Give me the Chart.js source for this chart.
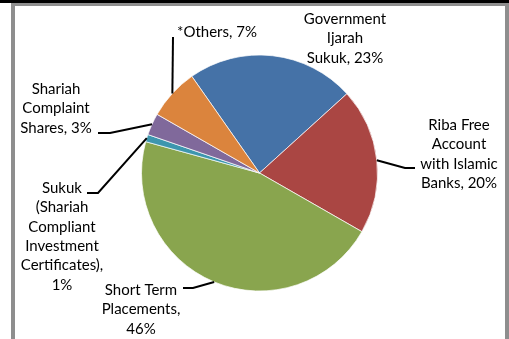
<!DOCTYPE html>
<html>
<head>
<meta charset="utf-8">
<script src="https://cdn.jsdelivr.net/npm/chart.js@4"></script>
<style>
  html, body { margin: 0; padding: 0; background: #fff; }
  body { width: 509px; height: 339px; position: relative; overflow: hidden; }
  #topband { position: absolute; left: 0; top: 0; width: 509px; height: 3px; background: #000; }
  #frame {
    position: absolute; left: 11px; top: 3px; width: 490px; height: 340px;
    border-left: 4px solid #8e8e8e; border-top: 3px solid #8e8e8e; border-right: 4px solid #8e8e8e;
  }
  #wrap { position: absolute; left: 0; top: 0; width: 509px; height: 339px; }
</style>
</head>
<body>
<div id="topband"></div>
<div id="frame"></div>
<div id="wrap"><canvas id="pie" width="509" height="339"></canvas></div>
<script>
// portfolio split, clockwise from the top-right slice
const categories = [
  ["Government", "Ijarah", "Sukuk"],
  ["Riba Free", "Account", "with Islamic", "Banks"],
  ["Short Term", "Placements"],
  ["Sukuk", "(Shariah", "Compliant", "Investment", "Certificates)"],
  ["Shariah", "Complaint", "Shares"],
  ["*Others"]
];
const shares = [23, 20, 46, 1, 3, 7];
const colors = ["#4572A7", "#AA4643", "#89A54E", "#3D96AE", "#80699B", "#DB843D"];

// where each label sits (text centre x, first line y) and the bend of its leader line
const labelLayout = [
  { x: 345, y: 19, leader: [] },
  { x: 459, y: 125, leader: [[405, 168], [415, 168]] },
  { x: 141, y: 290, leader: [[193, 288], [183, 288]] },
  { x: 62, y: 188, leader: [[98, 193], [87, 193]] },
  { x: 56, y: 89, leader: [[110, 133], [98, 133]] },
  { x: 217, y: 32, leader: [[173, 37]] }
];
const lineHeight = 19.4;

// builds "Name," / "46%" style lines like the spreadsheet labels
function labelLines(i) {
  const lines = categories[i].slice();
  const pct = shares[i] + "%";
  const last = lines[lines.length - 1] + ",";
  if (lines.length >= 5 || categories[i][0] === "Short Term") {
    lines[lines.length - 1] = last;
    lines.push(pct);
  } else {
    lines[lines.length - 1] = last + " " + pct;
  }
  return lines;
}

const labelPlugin = {
  id: "sliceLabels",
  afterDatasetsDraw(chart) {
    const ctx = chart.ctx;
    const arcs = chart.getDatasetMeta(0).data;
    ctx.save();
    arcs.forEach((arc, i) => {
      const p = arc.getProps(["x", "y", "startAngle", "endAngle", "outerRadius"], true);
      const mid = (p.startAngle + p.endAngle) / 2;
      const lay = labelLayout[i];
      if (lay.leader.length) {
        ctx.beginPath();
        ctx.moveTo(p.x + Math.cos(mid) * p.outerRadius, p.y + Math.sin(mid) * p.outerRadius);
        lay.leader.forEach(pt => ctx.lineTo(pt[0], pt[1]));
        ctx.strokeStyle = "#000";
        ctx.lineWidth = 2;
        ctx.stroke();
      }
      ctx.fillStyle = "#000";
      ctx.font = "15px Lato";
      ctx.textAlign = "center";
      ctx.textBaseline = "middle";
      labelLines(i).forEach((t, k) => ctx.fillText(t, lay.x, lay.y + k * lineHeight));
    });
    ctx.restore();
  }
};

new Chart(document.getElementById("pie"), {
  type: "pie",
  data: {
    labels: categories.map(c => c.join(" ")),
    datasets: [{
      data: shares,
      backgroundColor: colors,
      borderColor: "rgba(255,255,255,0.7)",
      borderWidth: 1
    }]
  },
  options: {
    responsive: false,
    animation: false,
    rotation: -35,
    layout: { padding: { left: 141, right: 131, top: 54, bottom: 47 } },
    plugins: {
      legend: { display: false },
      tooltip: { enabled: false }
    }
  },
  plugins: [labelPlugin]
});
</script>
</body>
</html>
